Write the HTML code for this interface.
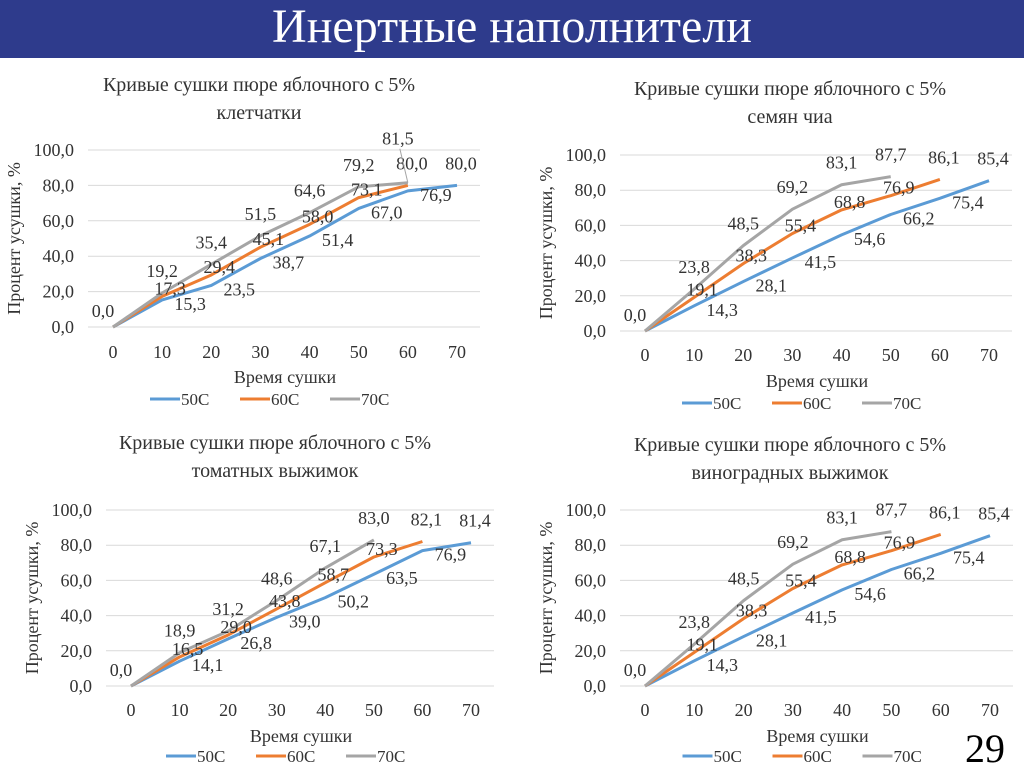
<!DOCTYPE html>
<html><head><meta charset="utf-8"><style>
body{margin:0;width:1024px;height:767px;overflow:hidden;background:#fff;font-family:"Liberation Serif",serif}
#hdr{position:absolute;left:0;top:0;width:1024px;height:58px;background:#2e3b8c;color:#fff;font-size:48px;text-align:center;line-height:54px}
svg{position:absolute;left:0;top:0}
</style></head><body>
<div id="hdr">Инертные наполнители</div>
<svg id="s" width="1024" height="767" font-family="Liberation Serif, serif"></svg>
<script>
const charts=[
{t:["Кривые сушки пюре яблочного с 5%","клетчатки"],ty:[91,119],tx:259,x0:113,x70:457,y0:327,y100:150,gl:88,gr:480,xl:358,at:383,lg:405,
d:[[0,15.3,23.5,38.7,51.4,67.0,76.9,80.0],[0,17.3,29.4,45.1,58.0,73.1,80.0],[0,19.2,35.4,51.5,64.6,79.2,81.5]],sp:1},
{t:["Кривые сушки пюре яблочного с 5%","семян чиа"],ty:[95,123],tx:790,x0:645,x70:989,y0:331,y100:155,gl:620,gr:1012,xl:361,at:387,lg:409,
d:[[0,14.3,28.1,41.5,54.6,66.2,75.4,85.4],[0,19.1,38.3,55.4,68.8,76.9,86.1],[0,23.8,48.5,69.2,83.1,87.7]]},
{t:["Кривые сушки пюре яблочного с 5%","томатных выжимок"],ty:[449,477],tx:275,x0:131,x70:471,y0:686,y100:510,gl:106,gr:494,xl:716,at:742,lg:762,
d:[[0,14.1,26.8,39.0,50.2,63.5,76.9,81.4],[0,16.5,29.0,43.8,58.7,73.3,82.1],[0,18.9,31.2,48.6,67.1,83.0]]},
{t:["Кривые сушки пюре яблочного с 5%","виноградных выжимок"],ty:[451,479],tx:790,x0:645,x70:990,y0:686,y100:510,gl:620,gr:1013,xl:716,at:742,lg:762,
d:[[0,14.3,28.1,41.5,54.6,66.2,75.4,85.4],[0,19.1,38.3,55.4,68.8,76.9,86.1],[0,23.8,48.5,69.2,83.1,87.7]]}];
const cols=["#5b9bd5","#ed7d31","#a5a5a5"],off=[[28,10],[8,-2],[0,-16]];
const tc="#333";
let h="";
for(const c of charts){
 const X=i=>c.x0+(c.x70-c.x0)*i/7,Y=v=>c.y0-(c.y0-c.y100)*v/100;
 h+=`<text x="${c.tx}" y="${c.ty[0]}" font-size="20" text-anchor="middle" fill="${tc}">${c.t[0]}</text><text x="${c.tx}" y="${c.ty[1]}" font-size="20" text-anchor="middle" fill="${tc}">${c.t[1]}</text>`;
 for(let k=0;k<=5;k++){const y=Y(k*20);h+=`<line x1="${c.gl}" x2="${c.gr}" y1="${y}" y2="${y}" stroke="#d9d9d9"/><text x="${c.gl-14}" y="${y+6}" font-size="18" text-anchor="end" fill="${tc}">${(k*20).toFixed(1).replace('.',',')}</text>`;}
 for(let i=0;i<8;i++)h+=`<text x="${X(i)}" y="${c.xl}" font-size="18" text-anchor="middle" fill="${tc}">${i*10}</text>`;
 const mid=(c.y0+c.y100)/2;
 h+=`<text transform="translate(${c.gl-68},${mid}) rotate(-90)" font-size="18" text-anchor="middle" fill="${tc}">Процент усушки, %</text>`;
 h+=`<text x="${(c.x0+c.x70)/2}" y="${c.at}" font-size="18" text-anchor="middle" fill="${tc}">Время сушки</text>`;
 const lx=(c.x0+c.x70)/2-135;
 ["50C","60C","70C"].forEach((n,j)=>{const x=lx+j*90;h+=`<line x1="${x}" x2="${x+30}" y1="${c.lg-6}" y2="${c.lg-6}" stroke="${cols[j]}" stroke-width="3"/><text x="${x+31}" y="${c.lg}" font-size="17" fill="${tc}">${n}</text>`;});
 c.d.forEach((s,j)=>{h+=`<polyline fill="none" stroke="${cols[j]}" stroke-width="3" stroke-linejoin="round" points="${s.map((v,i)=>X(i)+','+Y(v)).join(' ')}"/>`;});
 c.d.forEach((s,j)=>{s.forEach((v,i)=>{if(i==0&&j<2)return;let dx=off[j][0],dy=off[j][1];if(i==0){dx=-10;dy=-10;}
  if(i==s.length-1&&j<2){dx=4;dy=-16;}
  if(c.sp&&j==2&&i==6){dx=-10;dy=-38;h+=`<line x1="${X(i)-8}" y1="${Y(v)-34}" x2="${X(i)}" y2="${Y(v)}" stroke="#a5a5a5"/>`;}
  h+=`<text x="${X(i)+dx}" y="${Y(v)+dy}" font-size="18" text-anchor="middle" fill="${tc}">${v.toFixed(1).replace('.',',')}</text>`;});});
}
h+=`<text x="985" y="762" font-size="40" text-anchor="middle" fill="#000">29</text>`;
document.getElementById("s").innerHTML=h;
</script>
</body></html>
